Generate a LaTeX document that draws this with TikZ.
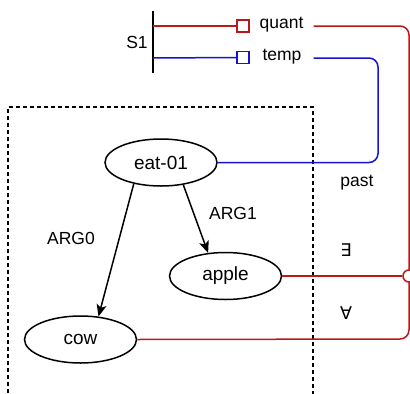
\documentclass[tikz,border=0pt]{standalone}
\usepackage{fontspec}
\setmainfont{Liberation Sans}
\newfontfamily\symfont{DejaVu Sans}
\usetikzlibrary{shapes.geometric,arrows.meta}
\definecolor{myred}{RGB}{185,25,25}
\definecolor{myblue}{RGB}{20,20,210}
\tikzset{
  amr/.style={draw, ellipse, line width=1.5bp, minimum width=112bp, minimum height=47bp, inner sep=0pt, font=\fontsize{19bp}{22bp}\selectfont},
  lbl/.style={inner sep=0pt, font=\fontsize{17.5bp}{20bp}\selectfont},
  sq/.style={draw, fill=white, line width=1.5bp, minimum size=12bp, inner sep=0pt},
  redline/.style={draw=myred, line width=1.5bp},
  blueline/.style={draw=myblue, line width=1.5bp},
  arr/.style={-{Stealth[length=12bp,width=10bp,inset=3bp]}, line width=1.5bp},
}
\begin{document}
\begin{tikzpicture}[x=1bp,y=-1bp]
\clip (0,0) rectangle (410,394);
% dashed box
\coordinate (bl) at (8,400);
\coordinate (tl) at (8,107);
\coordinate (tr) at (313,107);
\coordinate (br) at (313,400);
\draw[dash pattern=on 4bp off 3bp, line width=1.4bp] (bl) -- (tl) -- (tr) -- (br);
% S1
\coordinate (s1t) at (153,11);
\coordinate (s1b) at (153,73);
\draw[line width=1.8bp] (s1t) -- (s1b);
\node[lbl] (s1) at (137,42) {S1};
\coordinate (qs) at (153,26);
\coordinate (ts) at (153,58);
\node[sq, draw=myred] (qsq) at (243,26) {};
\node[sq, draw=myblue] (tsq) at (243,57.5) {};
\draw[redline] (qs) -- (qsq.west);
\draw[blueline] (ts) -- (tsq.west);
\node[lbl, inner xsep=10bp] (quant) at (281.5,25) {quant};
\node[lbl, inner xsep=12bp] (temp) at (282,57) {temp};
% nodes
\node[amr] (eat) at (161,162.5) {eat-01};
\node[amr] (apple) at (225.5,276) {apple};
\node[amr] (cow) at (80.5,339.5) {cow};
\draw[arr] (eat.218) -- (cow.52);
\draw[arr] (eat.315) -- (apple.127);
\node[lbl] (arg0) at (71,238) {ARG0};
\node[lbl] (arg1) at (233,213) {ARG1};
\node[lbl] (past) at (357,183) {past};
\node[lbl] (ex) at (346,250) {\symfont ∃};
\node[lbl] (fa) at (346,313) {\symfont ∀};
% connectors
\coordinate (rc) at (409,26);
\coordinate (rd) at (409,339);
\draw[redline, rounded corners=9bp] (quant.east |- qs) -- (rc) -- (rd) -- (cow.east);
\coordinate (bc) at (378,58);
\coordinate (bd) at (378,162.5);
\draw[blueline, rounded corners=9bp] (temp.east |- ts) -- (bc) -- (bd) -- (eat.east);
\node[circle, draw=myred, fill=white, line width=1.5bp, minimum size=12bp, inner sep=0pt] (circ) at (409,276) {};
\draw[draw=myred, line width=1.3bp] (apple.east) -- (circ.west);
\end{tikzpicture}
\end{document}
